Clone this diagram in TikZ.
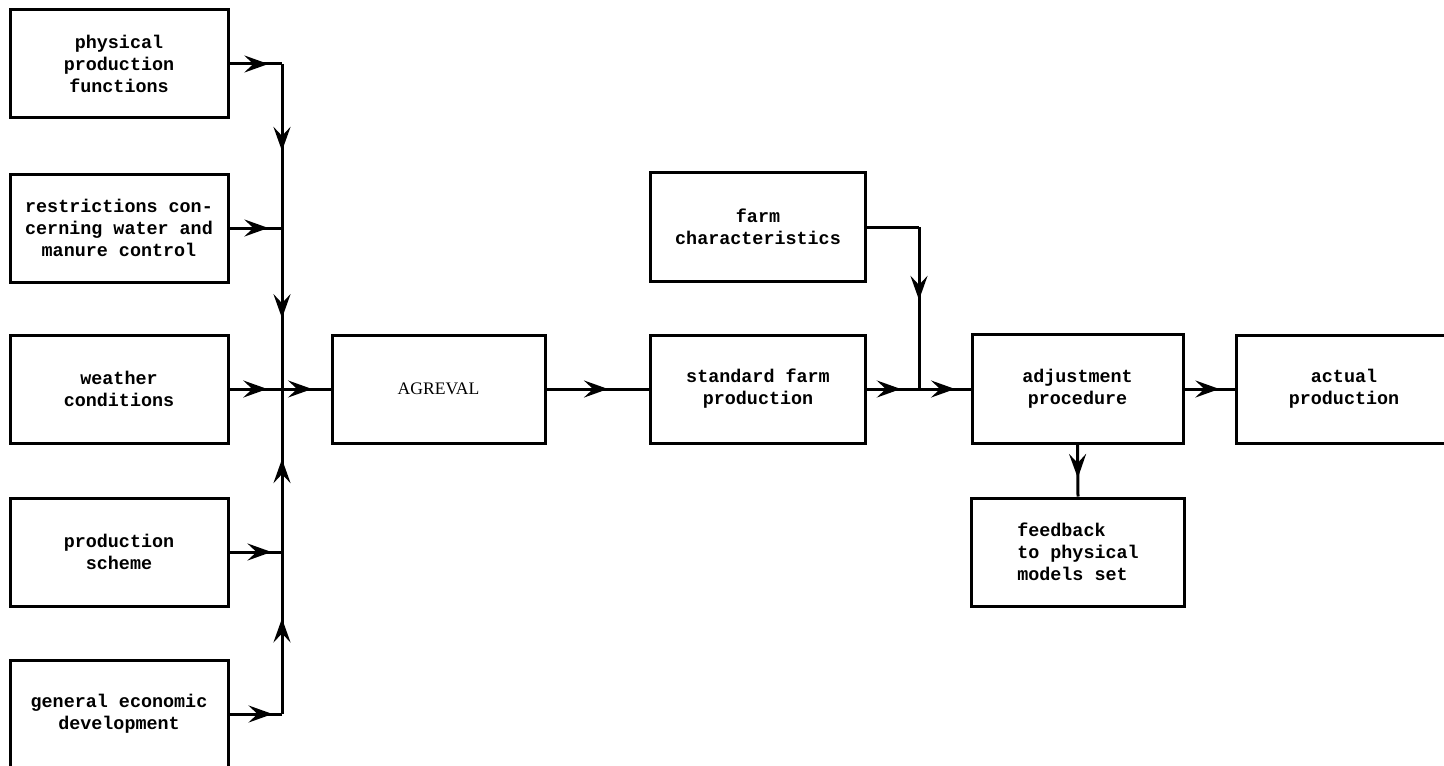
\documentclass[tikz,border=0pt]{standalone}
\usepackage{fontspec}
\setmonofont{Liberation Mono}
\newfontfamily\serifbox{Liberation Serif}
\usetikzlibrary{arrows.meta,decorations.markings}
\tikzset{
  box/.style={draw, line width=1.5pt, inner sep=0pt, align=center,
    font=\fontsize{9.2}{11}\selectfont\ttfamily\bfseries},
  lbox/.style={box, minimum width=109pt, minimum height=54pt},
  conn/.style={line width=1.5pt},
  arrowat/.style={postaction={decorate}, decoration={markings,
    mark=at position #1 with {\arrow{Stealth[length=12pt,width=8.5pt,inset=4.5pt]}}}}
}
\begin{document}
\begin{tikzpicture}[x=0.5pt,y=-0.5pt]
\useasboundingbox (0,0) rectangle (1444,765);
\clip (0,0) rectangle (1444,765);
% left column
\node[lbox] (b1) at (119,64) {physical\\production\\functions};
\node[lbox] (b2) at (119,228) {restrictions con-\\cerning water and\\manure control};
\node[lbox] (b3) at (119,389) {weather\\conditions};
\node[lbox] (b4) at (119,552) {production\\scheme};
\node[lbox] (b5) at (119,714) {general economic\\development};
% main row
\node[box, minimum width=106.5pt, minimum height=54pt, font=\fontsize{8.8}{10}\selectfont\serifbox] (ag) at (438.5,389) {AGREVAL};
\node[box, minimum width=107.5pt, minimum height=54pt] (std) at (758,389) {standard farm\\production};
\node[box, minimum width=107.5pt, minimum height=54.5pt] (farm) at (758,227) {farm\\characteristics};
\node[box, minimum width=105.5pt, minimum height=54.5pt] (adj) at (1077.5,389) {adjustment\\procedure};
\node[box, minimum width=107.5pt, minimum height=54pt] (act) at (1344,389) {actual\\production};
\node[box, minimum width=106.5pt, minimum height=54pt, align=left] (fb) at (1078,552) {feedback\\to physical\\models set};
% junctions
\coordinate (j1) at (282,64);
\coordinate (j2) at (282,228);
\coordinate (j3) at (282,389);
\coordinate (j4) at (282,552);
\coordinate (j5) at (282,714);
\coordinate (fc) at (919,227);
\coordinate (jf) at (919,389);
% inputs to bus
\draw[conn, arrowat=0.74] (b1.east) -- (j1);
\draw[conn, arrowat=0.74] (b2.east) -- (j2);
\draw[conn, arrowat=0.72] (b3.east) -- (j3);
\draw[conn, arrowat=0.80] (b4.east) -- (j4);
\draw[conn, arrowat=0.82] (b5.east) -- (j5);
% bus
\draw[conn, arrowat=0.53] (j1) -- (j2);
\draw[conn, arrowat=0.56] (j2) -- (j3);
\draw[conn, arrowat=0.57] (j4) -- (j3);
\draw[conn, arrowat=0.59] (j5) -- (j4);
% main flow
\draw[conn, arrowat=0.62] (j3) -- (ag.west);
\draw[conn, arrowat=0.60] (ag.east) -- (std.west);
\draw[conn, arrowat=0.65] (std.east) -- (jf);
\draw[conn] (farm.east) -- (fc);
\draw[conn, arrowat=0.45] (fc) -- (jf);
\draw[conn, arrowat=0.70] (jf) -- (adj.west);
\draw[conn, arrowat=0.69] (adj.east) -- (act.west);
\draw[conn, arrowat=0.64] (adj.south) -- (fb.north);
\end{tikzpicture}
\end{document}
